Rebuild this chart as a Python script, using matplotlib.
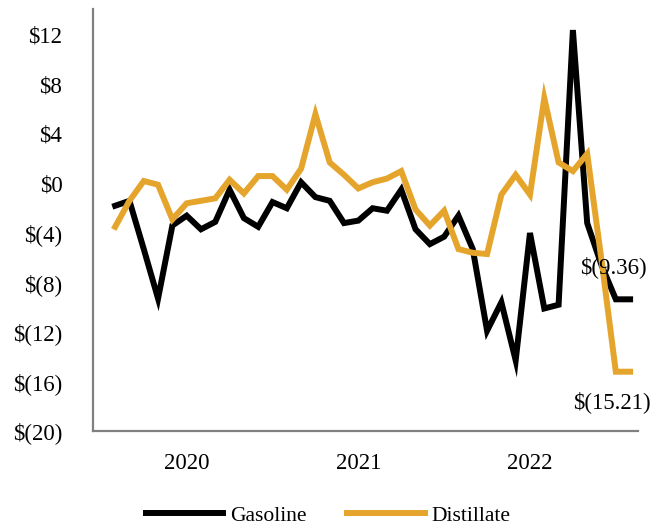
import matplotlib
matplotlib.use("Agg")
import matplotlib.pyplot as plt

# monthly margin series
gasoline = [-1.8, -1.4, -5.3, -9.3, -3.4, -2.6, -3.7, -3.1, -0.5, -2.8,
            -3.5, -1.5, -2.0, 0.1, -1.1, -1.4, -3.2, -3.0, -2.0, -2.2,
            -0.5, -3.7, -4.9, -4.3, -2.6, -5.3, -11.9, -9.6, -14.3, -4.0,
            -10.1, -9.8, 12.4, -3.2, -6.6, -9.36, -9.36]
distillate = [-3.5, -1.4, 0.2, -0.1, -2.9, -1.6, -1.4, -1.2, 0.3, -0.8,
              0.6, 0.6, -0.5, 1.2, 5.6, 1.7, 0.7, -0.4, 0.1, 0.4,
              1.0, -2.1, -3.4, -2.2, -5.3, -5.6, -5.7, -0.9, 0.7, -0.9,
              6.9, 1.7, 1.0, 2.4, -6.2, -15.21, -15.21]
year_labels = ["2020", "2021", "2022"]
year_pos = [5, 17, 29]
yticks = [12, 8, 4, 0, -4, -8, -12, -16, -20]

plt.rcParams['font.family'] = ['Liberation Serif', 'DejaVu Serif']

def money(v):
    if v < 0:
        return "$(%g)" % abs(v)
    return "$%g" % v

fig = plt.figure(figsize=(6.52, 5.27), dpi=100)
ax = fig.add_axes([0.1426, 0.1822, 0.8359, 0.8007])

x = list(range(len(gasoline)))
ax.plot(x, gasoline, color='black', lw=4.3, label='Gasoline', solid_joinstyle='miter')
ax.plot(x, distillate, color='#E5A52D', lw=4.3, label='Distillate', solid_joinstyle='miter')

ax.set_xlim(-1.55, 36.55)
ax.set_ylim(-20, 14.1)
ax.set_yticks(yticks)
ax.set_yticklabels([money(v) for v in yticks])
ax.set_xticks(year_pos)
ax.set_xticklabels(year_labels)
ax.tick_params(axis='y', length=0, pad=22, labelsize=16.5)
ax.tick_params(axis='x', length=0, pad=16, labelsize=16.5)

for s in ['top', 'right']:
    ax.spines[s].set_visible(False)
for s in ['left', 'bottom']:
    ax.spines[s].set_color('#808080')
    ax.spines[s].set_linewidth(1.6)

# end-of-series value labels
ax.annotate("$(%.2f)" % abs(gasoline[-1]), (x[-1], gasoline[-1]), xytext=(-17, 32),
            textcoords='offset pixels', ha='center', va='center', fontsize=16.5)
ax.annotate("$(%.2f)" % abs(distillate[-1]), (x[-1], distillate[-1]), xytext=(-18, -30),
            textcoords='offset pixels', ha='center', va='center', fontsize=16.5)

fig.legend(loc='center', bbox_to_anchor=(0.503, 0.021), ncol=2, frameon=False,
           fontsize=15.5, handlelength=3.6, handletextpad=0.3, columnspacing=1.9)

fig.savefig("out.png", dpi=100)
